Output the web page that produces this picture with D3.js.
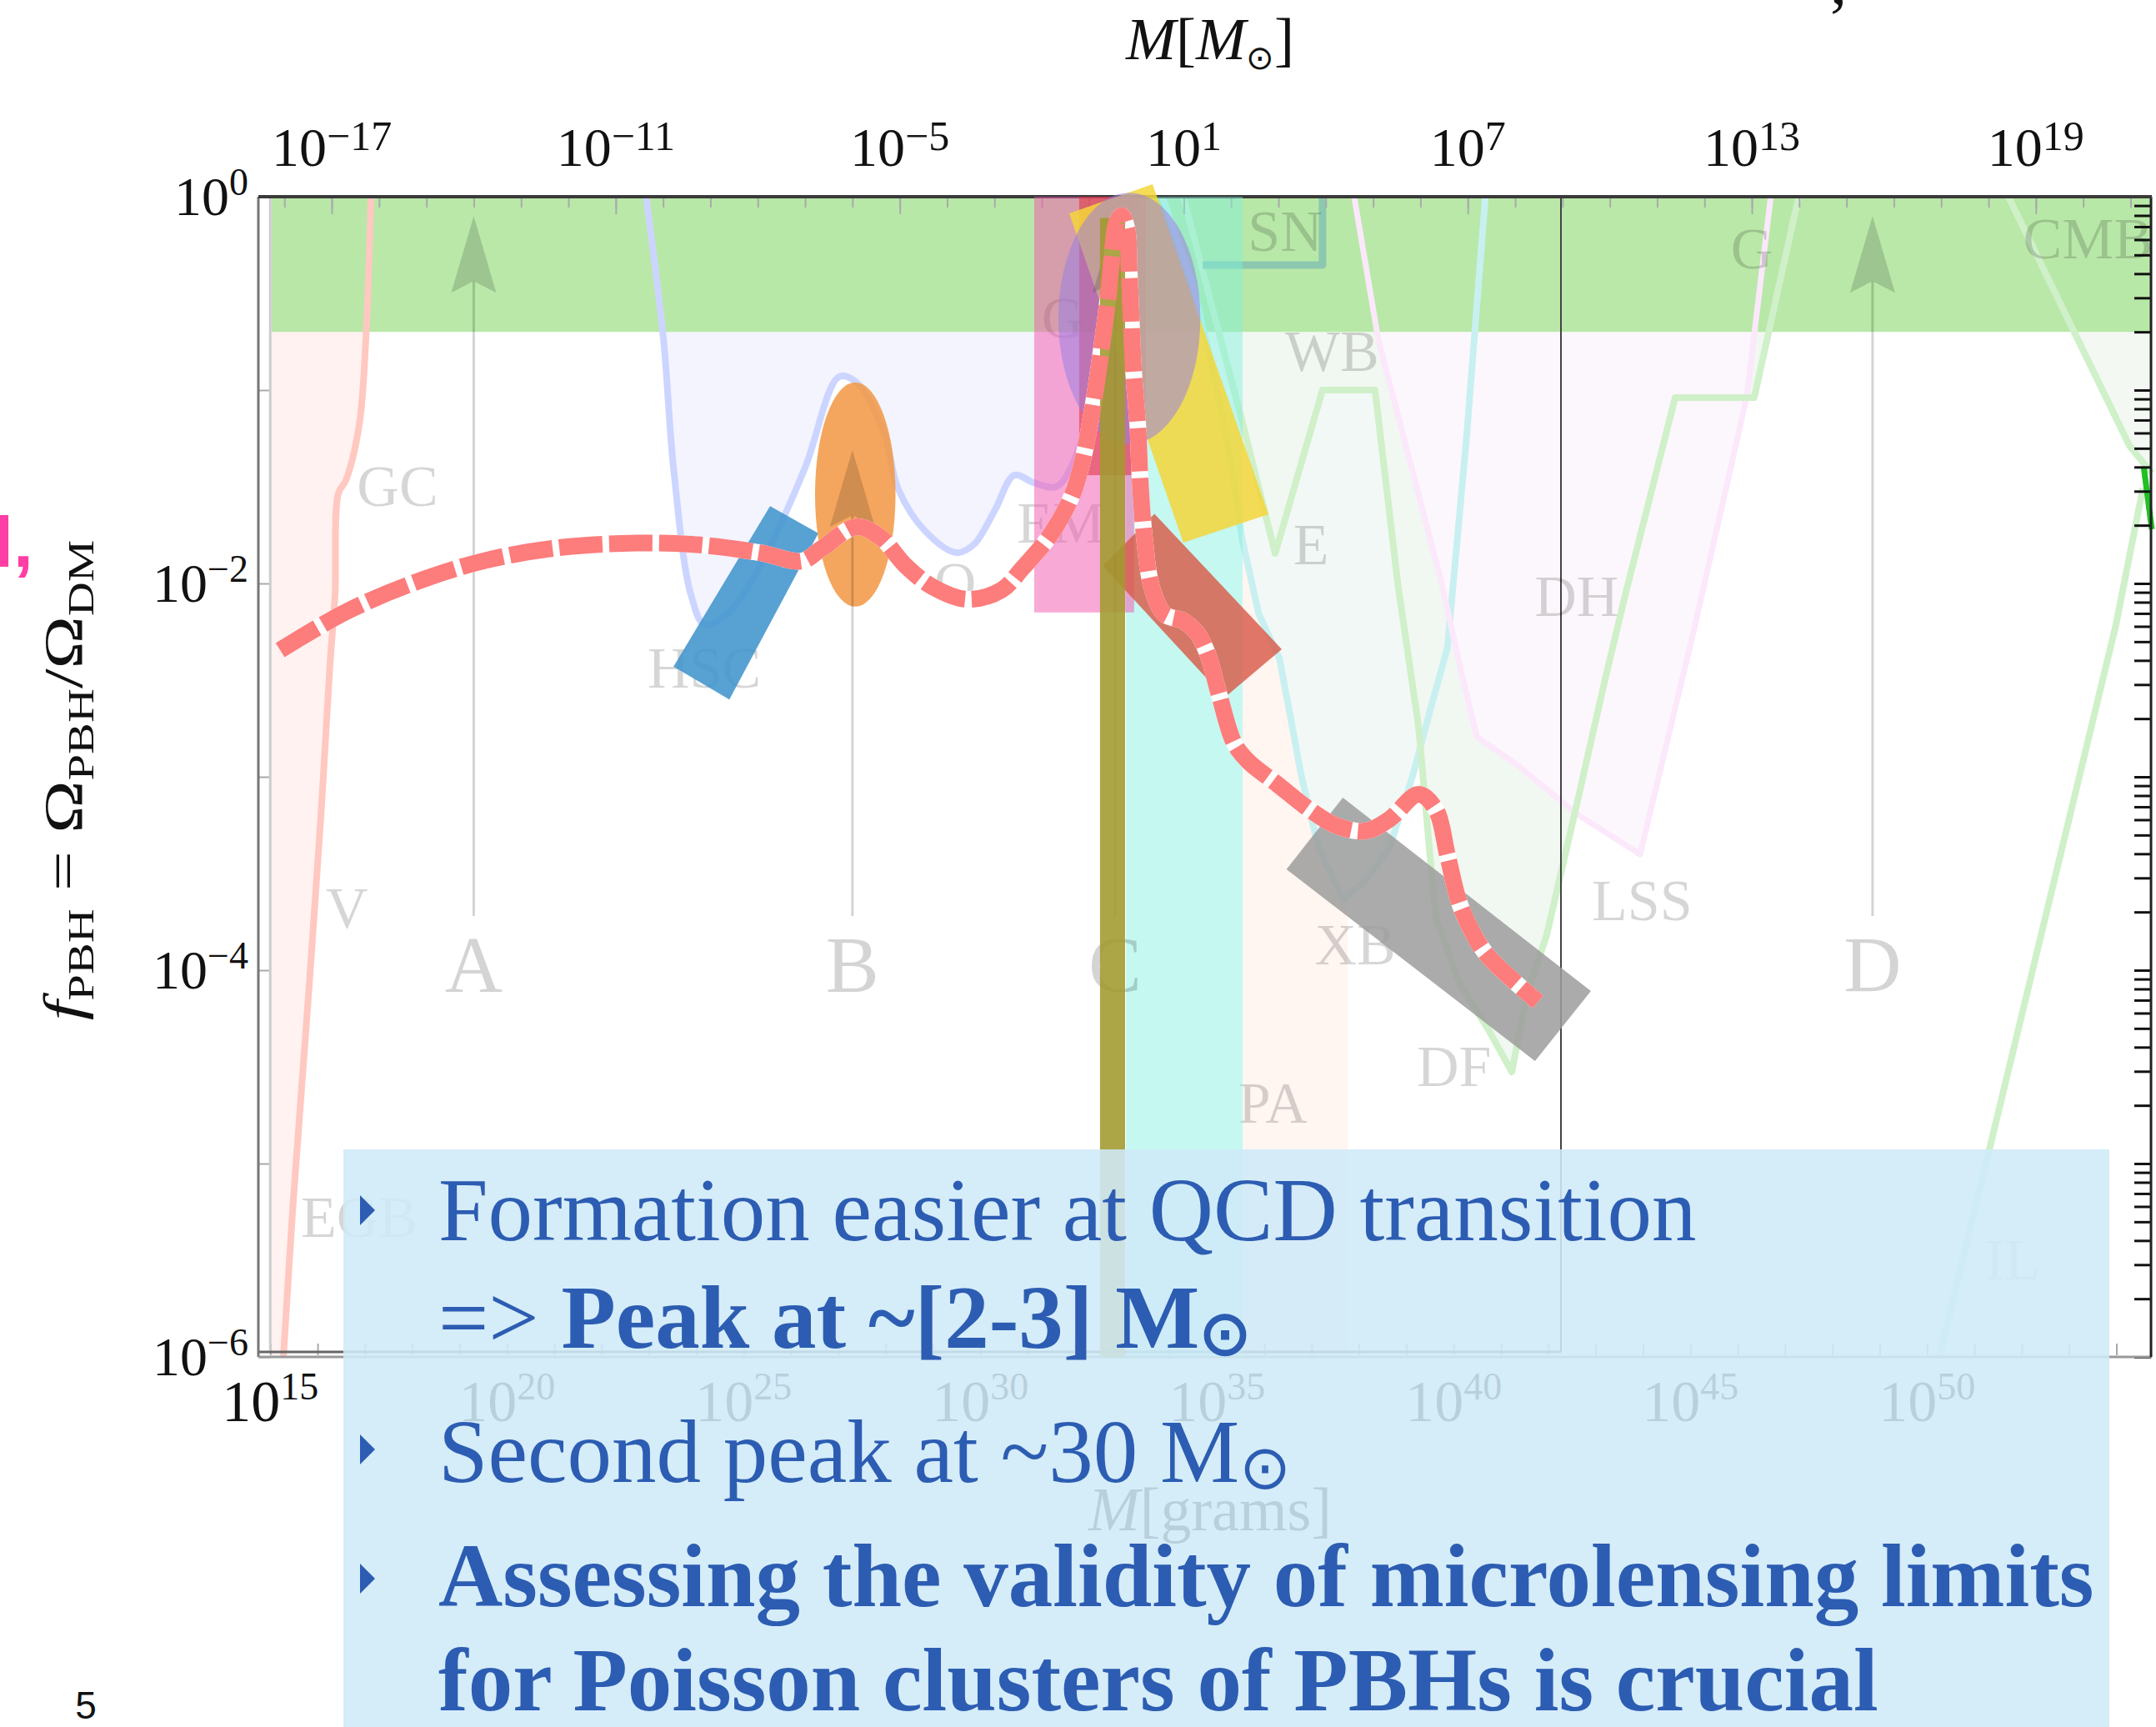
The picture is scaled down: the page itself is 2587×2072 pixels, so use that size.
<!DOCTYPE html>
<html>
<head>
<meta charset="utf-8">
<script src="https://cdn.jsdelivr.net/npm/d3@7/dist/d3.min.js"></script>
<style>
  body { margin: 0; background: #ffffff; }
  #chart svg { display: block; }
</style>
</head>
<body>
<div id="chart"></div>
<script>
// Data: masses are log10(M / Msun), fractions are log10(f_PBH)
var topTickExps = [-17, -11, -5, 1, 7, 13, 19];
var leftTickExps = [0, -2, -4, -6];
var gramTickExps = [15, 20, 25, 30, 35, 40, 45, 50];

// PBH mass function (dashed red curve)
var massFunction = [
  [-18.09, -2.345], [-16.70, -2.147], [-15.26, -1.996], [-13.80, -1.884],
  [-12.34, -1.819], [-10.87, -1.793], [-9.41, -1.797], [-7.95, -1.841],
  [-7.07, -1.884], [-6.65, -1.819], [-5.91, -1.707], [-5.40, -1.763],
  [-4.89, -1.905], [-4.31, -2.017], [-3.57, -2.082], [-2.85, -2.034],
  [-2.41, -1.922], [-1.82, -1.750], [-1.35, -1.539], [-1.12, -1.345],
  [-0.89, -1.039], [-0.72, -0.750], [-0.59, -0.500], [-0.50, -0.267],
  [-0.42, -0.134], [-0.31, -0.099], [-0.20, -0.168], [-0.15, -0.405],
  [-0.06, -0.905], [0.03, -1.190], [0.08, -1.478], [0.17, -1.767],
  [0.32, -2.017], [0.59, -2.159], [0.99, -2.194], [1.29, -2.259],
  [1.50, -2.362], [1.75, -2.578], [2.07, -2.828], [2.37, -2.922],
  [2.98, -3.039], [3.67, -3.172], [4.23, -3.254], [4.85, -3.280],
  [5.34, -3.220], [5.96, -3.091], [6.33, -3.172], [6.57, -3.405],
  [6.82, -3.651], [7.12, -3.815], [7.44, -3.931], [8.48, -4.164]
];

// Faint constraint curves
var evaporationLine = [[-16.17, 0], [-16.28, -0.741], [-16.42, -1.181], [-16.70, -1.466], [-16.86, -1.534],
  [-16.93, -2.06], [-17.04, -2.431], [-17.23, -3.207], [-17.51, -4.194], [-17.81, -5.185], [-18.02, -6]];
var lensingLine = [[-10.36, 0], [-9.99, -0.741], [-9.78, -1.401], [-9.41, -2.06], [-9.11, -2.216],
  [-8.53, -2.129], [-7.81, -1.841], [-7.00, -1.401], [-6.28, -0.931], [-5.91, -0.961], [-5.33, -1.224],
  [-5.03, -1.513], [-4.45, -1.733], [-3.80, -1.841], [-3.43, -1.797], [-2.99, -1.621], [-2.58, -1.44],
  [-2.18, -1.478], [-1.70, -1.50], [-1.35, -1.384], [-0.90, -1.0], [-0.50, -0.40], [-0.30, 0]];
var dynamicsLine = [[0.99, 0], [2.23, -1.159], [2.93, -1.845], [3.93, -1.0], [5.04, -1.0], [5.52, -2.0],
  [5.96, -2.741], [6.20, -3.405], [6.33, -3.733], [6.82, -4.065], [7.44, -4.310], [7.93, -4.526],
  [8.23, -4.147], [8.67, -3.815], [9.29, -3.155], [9.90, -2.496], [10.32, -2.065], [11.38, -1.039],
  [13.05, -1.039], [13.99, 0]];
var xrayLine = [[0.55, 0], [1.22, -0.478], [1.70, -1.0], [2.00, -1.384], [2.23, -1.767], [2.58, -2.155],
  [3.02, -2.388], [3.23, -2.659], [3.48, -2.991], [3.85, -3.371], [4.36, -3.634], [4.85, -3.534],
  [5.34, -3.371], [5.84, -2.991], [6.20, -2.659], [6.57, -2.332], [6.98, -1.224], [7.37, 0]];
var lssLine = [[4.60, 0], [5.11, -0.741], [6.45, -2.0], [6.82, -2.414], [7.19, -2.793], [8.05, -2.940],
  [9.29, -3.190], [10.64, -3.401], [11.80, -2.216], [12.89, -1.039], [13.40, 0]];
var cmbLine = [[18.42, 0], [20.98, -1.289], [21.45, -1.43]];
var ilLine = [[16.96, -6], [20.69, -2.216], [21.26, -1.509]];
var greenTip = [[21.28, -1.40], [21.45, -1.72]];
var snBox = [[1.40, -0.353], [3.93, -0.353], [3.93, 0]];

// Constraint labels
var constraintNames = ["GC", "V", "EGB", "HSC", "O", "EM", "G", "SN", "WB", "E", "DH", "G", "CMB", "LSS", "XB", "DF", "PA", "IL"];
var constraintMass = [-15.61, -16.68, -16.42, -9.13, -3.83, -1.60, -1.56, 3.14, 4.13, 3.69, 9.30, 13.0, 20.10, 10.68, 4.62, 6.71, 2.88, 18.51];
var constraintFrac = [-1.60, -3.78, -5.38, -2.54, -2.10, -1.79, -0.73, -0.28, -0.90, -1.90, -2.17, -0.37, -0.32, -3.74, -3.97, -4.60, -4.79, -5.60];

// Scenarios A-D (vertical arrows)
var scenarioNames = ["A", "B", "C", "D"];
var scenarioMass = [-14.0, -6.0, -0.45, 15.55];
var scenarioTip = [-0.10, -1.31, -0.10, -0.10];

// Shaded bands: [logM from, logM to, logf top, logf bottom]
var greenBand = [-18.27, 21.45, 0, -0.699];
var peachBand = [2.24, 4.46, 0, -6];
var cyanBand = [-0.22, 2.24, 0, -6];
var pinkBand = [-2.16, -0.05, 0, -2.15];
var redBand = [-1.21, 0.20, 0, -1.44];
var oliveBand = [-0.77, -0.24, -0.11, -6];

// Tilted boxes (corners)
var hscBox = [[-7.74, -1.60], [-6.72, -1.74], [-8.60, -2.60], [-9.78, -2.43]];
var yellowBox = [[-1.42, -0.086], [0.34, 0.065], [2.79, -1.642], [0.99, -1.789]];
var redBox = [[0.38, -1.64], [3.07, -2.34], [1.86, -2.59], [-0.71, -1.91]];
var grayBox = [[4.36, -3.108], [9.60, -4.108], [8.42, -4.470], [3.17, -3.478]];

// Ellipses: [logM, logf, half width (decades), half height (decades)]
var orangeBlob = [-5.94, -1.54, 0.85, 0.58];
var purpleBlob = [-0.15, -0.629, 1.50, 0.65];

// Layout
var svgWidth = 2587, svgHeight = 2072;
var plot = { left: 310, right: 2582, top: 236, bottom: 1628 };
var serif = "'Liberation Serif', 'Times New Roman', serif";
var SUN_G = 33.2986;

var svg = d3.select("#chart")
    .append("svg")
    .attr("width", svgWidth)
    .attr("height", svgHeight)
    .style("background", "#ffffff");

// Scales
var x = d3.scaleLog().domain([Math.pow(10, -18.55), Math.pow(10, 21.45)]).range([plot.left, plot.right]);
var xg = d3.scaleLog().domain([Math.pow(10, -18.55 + SUN_G), Math.pow(10, 21.45 + SUN_G)]).range([plot.left, plot.right]);
var y = d3.scaleLog().domain([1, 1e-6]).range([plot.top, plot.bottom]);

function lx(m) { return x(Math.pow(10, m)); }
function ly(f) { return y(Math.pow(10, f)); }

var lineGen = d3.line()
    .x(function (d) { return lx(d[0]); })
    .y(function (d) { return ly(d[1]); });

function band(b, fill, opacity) {
  svg.append("rect")
      .attr("x", lx(b[0]))
      .attr("y", ly(b[2]))
      .attr("width", lx(b[1]) - lx(b[0]))
      .attr("height", ly(b[3]) - ly(b[2]))
      .attr("fill", fill)
      .attr("fill-opacity", opacity);
}
function poly(pts, fill, opacity) {
  svg.append("path")
      .attr("d", lineGen(pts) + "Z")
      .attr("fill", fill)
      .attr("fill-opacity", opacity);
}
function curve(pts, color, w, smooth) {
  svg.append("path")
      .attr("d", lineGen.curve(smooth ? d3.curveCatmullRom : d3.curveLinear)(pts))
      .attr("fill", "none")
      .attr("stroke", color)
      .attr("stroke-width", w)
      .attr("stroke-linejoin", "round");
  lineGen.curve(d3.curveLinear);
}
function blob(e, fill, opacity) {
  svg.append("ellipse")
      .attr("cx", lx(e[0]))
      .attr("cy", ly(e[1]))
      .attr("rx", lx(e[0] + e[2]) - lx(e[0]))
      .attr("ry", ly(e[1] - e[3]) - ly(e[1]))
      .attr("fill", fill)
      .attr("fill-opacity", opacity);
}
function powText(sel, exp, baseSize, supSize, rise) {
  sel.append("tspan").attr("font-size", baseSize).text("10");
  sel.append("tspan").attr("font-size", supSize).attr("dy", -rise)
      .text(exp < 0 ? "\u2212" + Math.abs(exp) : String(exp));
}

// Faint excluded regions
band(peachBand, "#fff5f1", 1);
poly(evaporationLine.concat([[-18.27, -6], [-18.27, 0]]), "#fff2f0", 1);
poly(lensingLine, "#f3f4fd", 1);
poly(xrayLine, "#f2f8f6", 1);
poly(dynamicsLine, "#f1f7f1", 1);
poly(lssLine, "#fcf7fc", 1);
poly(cmbLine.concat([[21.45, 0]]), "#f3f8f3", 1);

// Green band f > 0.2
band(greenBand, "#b3e6a1", 0.92);

// Constraint curves
curve(evaporationLine, "#ffc8c0", 8, true);
curve(lensingLine, "#ccd5ff", 8, true);
curve(xrayLine, "#c9f0f0", 8, false);
curve(lssLine, "#fbe8fb", 7, false);
curve(dynamicsLine, "#cff0c9", 8, false);
curve(cmbLine, "#cff0c9", 8, false);
curve(ilLine, "#cff0c9", 8, false);
curve(greenTip, "#22c022", 7, false);
curve(snBox, "#8cc8b0", 9, false);

// Frame and ticks
svg.append("g")
    .attr("transform", "translate(0," + (plot.top + 2) + ")")
    .call(d3.axisBottom(x).tickValues(d3.range(-18, 22).map(function (e) { return Math.pow(10, e); }))
        .tickSize(11).tickFormat(""));
svg.append("g")
    .attr("transform", "translate(0," + (plot.top + 2) + ")")
    .call(d3.axisBottom(x).tickValues(topTickExps.map(function (e) { return Math.pow(10, e); }))
        .tickSize(19).tickFormat(""));
svg.append("g")
    .attr("transform", "translate(" + plot.left + ",0)")
    .call(d3.axisRight(y).tickValues(d3.range(-6, 1).map(function (e) { return Math.pow(10, e); }))
        .tickSize(15).tickFormat(""));
var minorF = [];
d3.range(-6, 0).forEach(function (e) { d3.range(1, 10).forEach(function (k) { minorF.push(k * Math.pow(10, e)); }); });
minorF.push(1);
svg.append("g")
    .attr("class", "right-axis")
    .attr("transform", "translate(" + (plot.right - 1) + ",0)")
    .call(d3.axisLeft(y).tickValues(minorF).tickSize(20).tickFormat(""));
svg.append("g")
    .attr("transform", "translate(0," + (plot.bottom - 2) + ")")
    .call(d3.axisTop(xg).tickValues(d3.range(15, 55).map(function (e) { return Math.pow(10, e); }))
        .tickSize(14).tickFormat(""));
svg.selectAll(".domain").remove();
svg.selectAll(".tick line").attr("stroke", "#aaaaaa").attr("stroke-width", 2);
svg.selectAll(".right-axis .tick line").attr("stroke", "#111111").attr("stroke-width", 3);

var innerLeft = xg(1e15), innerRight = 1873, innerBottom = plot.bottom - 6;
svg.append("line").attr("x1", innerLeft).attr("x2", innerLeft).attr("y1", plot.top).attr("y2", innerBottom)
    .attr("stroke", "#cccccc").attr("stroke-width", 3);
svg.append("line").attr("x1", innerRight).attr("x2", innerRight).attr("y1", plot.top).attr("y2", innerBottom)
    .attr("stroke", "#444444").attr("stroke-width", 2);
svg.append("line").attr("x1", plot.left).attr("x2", innerRight).attr("y1", innerBottom).attr("y2", innerBottom)
    .attr("stroke", "#666666").attr("stroke-width", 3);
svg.append("line").attr("x1", plot.left).attr("x2", plot.left).attr("y1", plot.top).attr("y2", plot.bottom)
    .attr("stroke", "#777777").attr("stroke-width", 3);
svg.append("line").attr("x1", plot.left).attr("x2", plot.right).attr("y1", plot.bottom).attr("y2", plot.bottom)
    .attr("stroke", "#999999").attr("stroke-width", 3);
svg.append("line").attr("x1", plot.right - 1).attr("x2", plot.right - 1).attr("y1", plot.top).attr("y2", plot.bottom)
    .attr("stroke", "#222222").attr("stroke-width", 3);
svg.append("line").attr("x1", plot.left).attr("x2", plot.right).attr("y1", plot.top).attr("y2", plot.top)
    .attr("stroke", "#3a3a3a").attr("stroke-width", 4);

// Constraint labels
svg.append("g").selectAll("text")
    .data(constraintNames)
    .enter().append("text")
    .attr("x", function (d, i) { return lx(constraintMass[i]); })
    .attr("y", function (d, i) { return ly(constraintFrac[i]); })
    .attr("text-anchor", "middle")
    .attr("font-family", serif)
    .attr("font-size", 70)
    .attr("fill", "#000000")
    .attr("fill-opacity", 0.16)
    .text(function (d) { return d; });

// Colored overlays
band(cyanBand, "#7cf0de", 0.45);
band(pinkBand, "#f353ad", 0.5);
band(redBand, "#e02f3a", 0.55);
poly(yellowBox, "#f4d63a", 0.85);
blob(purpleBlob, "#9a80e0", 0.55);
poly(redBox, "#d95a48", 0.82);
poly(hscBox, "#3f94cd", 0.87);
blob(orangeBlob, "#f39a48", 0.88);
poly(grayBox, "#9c9c9c", 0.85);

// Scenario lines, arrows and letters
var scen = svg.append("g").selectAll("g")
    .data(scenarioNames)
    .enter().append("g");
scen.append("line")
    .attr("x1", function (d, i) { return lx(scenarioMass[i]); })
    .attr("x2", function (d, i) { return lx(scenarioMass[i]); })
    .attr("y1", function (d, i) { return ly(scenarioTip[i]) + 78; })
    .attr("y2", ly(-3.72))
    .attr("stroke", "#000000").attr("stroke-opacity", 0.17).attr("stroke-width", 3);
scen.append("path")
    .attr("d", function (d, i) {
      var cx = lx(scenarioMass[i]), ty = ly(scenarioTip[i]);
      return "M" + cx + "," + ty + "L" + (cx - 27) + "," + (ty + 92) + "L" + cx + "," + (ty + 78) +
        "L" + (cx + 27) + "," + (ty + 92) + "Z";
    })
    .attr("fill", "#000000").attr("fill-opacity", 0.15);
scen.append("text")
    .attr("x", function (d, i) { return lx(scenarioMass[i]); })
    .attr("y", ly(-4.11))
    .attr("text-anchor", "middle")
    .attr("font-family", serif)
    .attr("font-size", 96)
    .attr("fill", "#000000").attr("fill-opacity", 0.17)
    .text(function (d) { return d; });

// Mass function: white underlay, olive bar, then dashes on top
lineGen.curve(d3.curveCatmullRom);
svg.append("path")
    .attr("d", lineGen(massFunction))
    .attr("fill", "none").attr("stroke", "#ffffff").attr("stroke-width", 20);
band(oliveBand, "#a09a2e", 0.88);
svg.append("path")
    .attr("d", lineGen(massFunction))
    .attr("fill", "none")
    .attr("stroke", "#fd7c7c")
    .attr("stroke-width", 20)
    .attr("stroke-dasharray", "52,8");
lineGen.curve(d3.curveLinear);

// Tick labels
svg.append("g").selectAll("text")
    .data(topTickExps).enter().append("text")
    .attr("x", function (d) { return lx(d); })
    .attr("y", 199)
    .attr("text-anchor", "middle")
    .attr("font-family", serif)
    .attr("fill", "#111111")
    .each(function (d) { powText(d3.select(this), d, 66, 50, 19); });
svg.append("g").selectAll("text")
    .data(leftTickExps).enter().append("text")
    .attr("x", 298)
    .attr("y", function (d) { return ly(d) + 22; })
    .attr("text-anchor", "end")
    .attr("font-family", serif)
    .attr("fill", "#111111")
    .each(function (d) { powText(d3.select(this), d, 66, 46, 24); });
svg.append("g").selectAll("text")
    .data(gramTickExps).enter().append("text")
    .attr("x", function (d) { return xg(Math.pow(10, d)); })
    .attr("y", 1705)
    .attr("text-anchor", "middle")
    .attr("font-family", serif)
    .attr("fill", "#111111")
    .each(function (d) { powText(d3.select(this), d, 70, 46, 26); });

// Axis titles
var topTitle = svg.append("text")
    .attr("x", 1452).attr("y", 71)
    .attr("text-anchor", "middle")
    .attr("font-family", serif).attr("font-size", 72).attr("fill", "#111111");
topTitle.append("tspan").attr("font-style", "italic").text("M");
topTitle.append("tspan").text("[");
topTitle.append("tspan").attr("font-style", "italic").text("M");
topTitle.append("tspan").attr("font-size", 40).attr("dy", 12).text("\u2299");
topTitle.append("tspan").attr("dy", -12).text("]");

var bottomTitle = svg.append("text")
    .attr("x", 1452).attr("y", 1836)
    .attr("text-anchor", "middle")
    .attr("font-family", serif).attr("font-size", 74).attr("fill", "#111111");
bottomTitle.append("tspan").attr("font-style", "italic").text("M");
bottomTitle.append("tspan").text("[grams]");

// y title is stretched along its length like the source figure
var yTitle = svg.append("text")
    .attr("transform", "translate(98,936) rotate(-90) scale(1.29,1)")
    .attr("text-anchor", "middle")
    .attr("font-family", serif).attr("font-size", 66).attr("fill", "#111111");
yTitle.append("tspan").attr("font-style", "italic").text("f");
yTitle.append("tspan").attr("font-size", 44).attr("dy", 14).text("PBH");
yTitle.append("tspan").attr("dy", -14).text(" = \u03A9");
yTitle.append("tspan").attr("font-size", 44).attr("dy", 14).text("PBH");
yTitle.append("tspan").attr("dy", -14).text("/\u03A9");
yTitle.append("tspan").attr("font-size", 44).attr("dy", 14).text("DM");

// Text box over the chart
svg.append("rect")
    .attr("x", 412).attr("y", 1379)
    .attr("width", 2119).attr("height", 693)
    .attr("fill", "#cfe9f8").attr("fill-opacity", 0.88);

var blue = "#2c5db2";
var bulletCenters = [1452, 1739, 1894];
svg.append("g").selectAll("path")
    .data(bulletCenters).enter().append("path")
    .attr("d", function (c) { return "M432," + (c - 18) + "L450," + c + "L432," + (c + 18) + "Z"; })
    .attr("fill", blue);

var noteX = 526, noteSize = 107;
svg.append("text").attr("x", noteX).attr("y", 1488)
    .attr("font-family", serif).attr("font-size", noteSize).attr("fill", blue)
    .text("Formation easier at QCD transition");
var t2 = svg.append("text").attr("x", noteX).attr("y", 1617)
    .attr("font-family", serif).attr("font-size", noteSize).attr("fill", blue);
t2.append("tspan").text("=> ");
t2.append("tspan").attr("font-weight", "bold").text("Peak at ~[2-3] M");
t2.append("tspan").attr("font-weight", "bold").attr("font-size", 74).attr("dy", 8).text("\u2299");
var t3 = svg.append("text").attr("x", noteX).attr("y", 1778)
    .attr("font-family", serif).attr("font-size", noteSize).attr("fill", blue);
t3.append("tspan").text("Second peak at ~30 M");
t3.append("tspan").attr("font-size", 74).attr("dy", 8).text("\u2299");
svg.append("text").attr("x", noteX).attr("y", 1927)
    .attr("font-family", serif).attr("font-size", noteSize).attr("font-weight", "bold").attr("fill", blue)
    .text("Assessing the validity of microlensing limits");
svg.append("text").attr("x", noteX).attr("y", 2052)
    .attr("font-family", serif).attr("font-size", noteSize).attr("font-weight", "bold").attr("fill", blue)
    .text("for Poisson clusters of PBHs is crucial");

// Slide leftovers: page number, cut title pieces
svg.append("text").attr("x", 103).attr("y", 2062).attr("text-anchor", "middle")
    .attr("font-family", "'Liberation Sans', Arial, sans-serif").attr("font-size", 46).attr("fill", "#111111")
    .text("5");
svg.append("text").attr("x", 40).attr("y", 680).attr("text-anchor", "end")
    .attr("font-family", "'Liberation Sans', Arial, sans-serif").attr("font-size", 86)
    .attr("font-weight", "bold").attr("fill", "#ff3ea5")
    .text("l,");
svg.append("text").attr("x", 2196).attr("y", 4)
    .attr("font-family", serif).attr("font-size", 80).attr("fill", "#111111")
    .text(",");
</script>
</body>
</html>
